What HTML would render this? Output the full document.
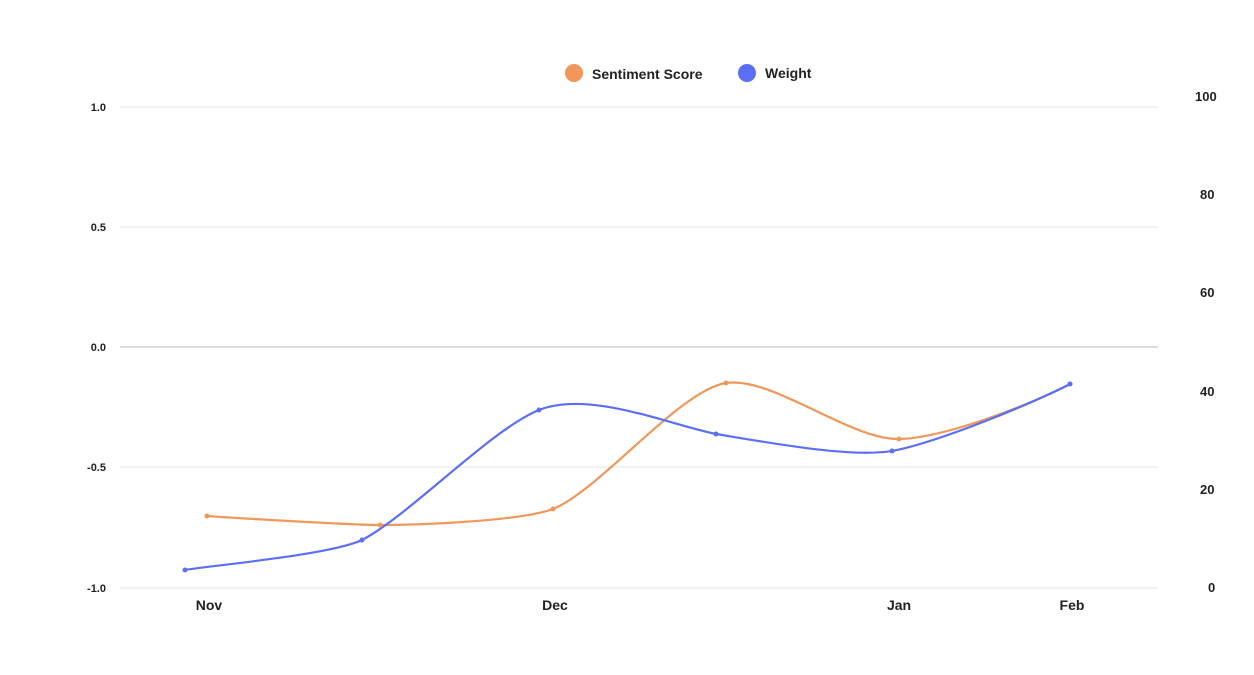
<!DOCTYPE html>
<html><head><style>
body{margin:0;background:#fff;}
svg text{font-family:"Liberation Sans",sans-serif;font-weight:bold;fill:#222;}
</style></head><body>
<svg width="1254" height="670" viewBox="0 0 1254 670">
<g stroke="#e6e6e6" stroke-width="1">
<line x1="120" y1="107" x2="1158" y2="107"/>
<line x1="120" y1="227" x2="1158" y2="227"/>
<line x1="120" y1="467" x2="1158" y2="467"/>
<line x1="120" y1="588" x2="1158" y2="588"/>
</g>
<line x1="120" y1="347" x2="1158" y2="347" stroke="#d0d0d0" stroke-width="1.5"/>
<g font-size="11" text-anchor="end">
<text x="106" y="111">1.0</text>
<text x="106" y="231">0.5</text>
<text x="106" y="351">0.0</text>
<text x="106" y="471">-0.5</text>
<text x="106" y="592">-1.0</text>
</g>
<g font-size="13" text-anchor="start">
<text x="1195" y="101">100</text>
<text x="1200" y="199">80</text>
<text x="1200" y="297">60</text>
<text x="1200" y="396">40</text>
<text x="1200" y="494">20</text>
<text x="1208" y="592">0</text>
</g>
<g font-size="14" text-anchor="middle">
<text x="209" y="610">Nov</text>
<text x="555" y="610">Dec</text>
<text x="899" y="610">Jan</text>
<text x="1072" y="610">Feb</text>
</g>
<circle cx="574" cy="73" r="9" fill="#f0975a"/>
<text x="592" y="79" font-size="14">Sentiment Score</text>
<circle cx="747" cy="73" r="9" fill="#5b6ff5"/>
<text x="765" y="78" font-size="14">Weight</text>
<path d="M207,516 C236,518 351,525 380,525 C409,525 518,522 553,509 C600,490 680,390 726,383 C772,376 850,440 899,439 C948,438 1040,400 1070,384" fill="none" stroke="#f0975a" stroke-width="2.2"/>
<path d="M185,570 C215,565 330,555 362,540 C410,515 490,430 539,410 C590,390 670,425 716,434 C765,442 850,458 892,451 C940,442 1040,400 1070,384" fill="none" stroke="#5b6ff5" stroke-width="2.2"/>
<g fill="#f0975a">
<circle cx="207" cy="516" r="2.5"/><circle cx="380" cy="525" r="2.5"/><circle cx="553" cy="509" r="2.5"/><circle cx="726" cy="383" r="2.5"/><circle cx="899" cy="439" r="2.5"/><circle cx="1070" cy="384" r="2.5"/>
</g>
<g fill="#5b6ff5">
<circle cx="185" cy="570" r="2.5"/><circle cx="362" cy="540" r="2.5"/><circle cx="539" cy="410" r="2.5"/><circle cx="716" cy="434" r="2.5"/><circle cx="892" cy="451" r="2.5"/><circle cx="1070" cy="384" r="2.5"/>
</g>
</svg>
</body></html>
